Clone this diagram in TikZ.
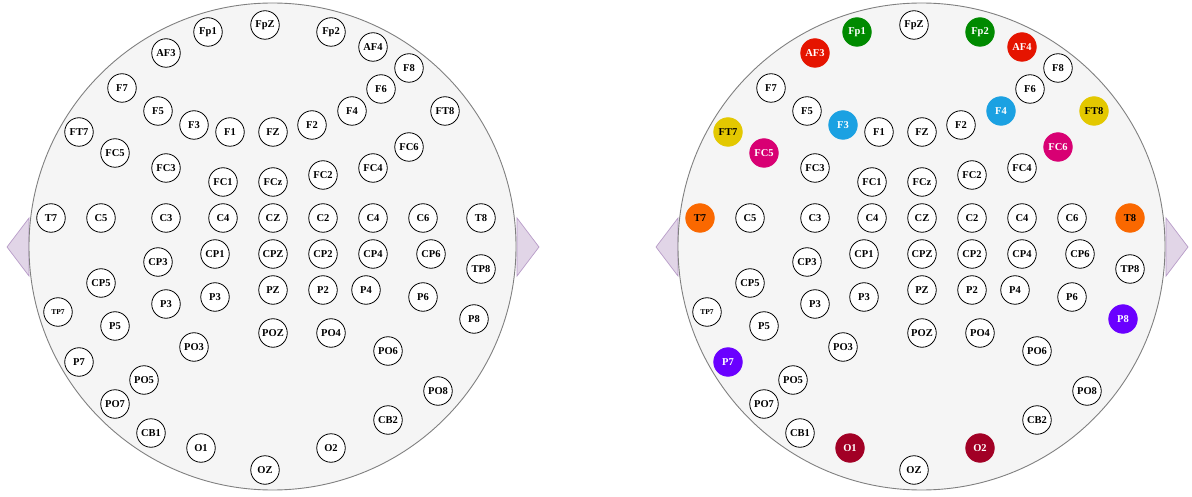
\documentclass[tikz,border=0pt]{standalone}
\usepackage{fontspec}
\setmainfont{Liberation Serif}
\begin{document}
\begin{tikzpicture}[x=1pt,y=-1pt,
  head/.style={circle,draw=headline,fill=headfill,line width=0.9pt,minimum size=487pt,inner sep=0pt},
  ear/.style={draw=earline,fill=earfill,line width=0.7pt,line join=miter},
  el/.style={circle,draw=black,fill=white,line width=0.8pt,minimum size=28.5pt,inner sep=0pt,
    font=\fontsize{10.5}{12}\selectfont\bfseries,text=black},
  ePlain/.style={},
  eGreen/.style={fill=cGreen,draw=cGreen,text=white},
  eRed/.style={fill=cRed,draw=cRed,text=white},
  eBlue/.style={fill=cBlue,draw=cBlue,text=white},
  eYellow/.style={fill=cYellow,draw=cYellow,text=black},
  eMagenta/.style={fill=cMagenta,draw=cMagenta,text=white},
  eOrange/.style={fill=cOrange,draw=cOrange,text=black},
  eViolet/.style={fill=cViolet,draw=cViolet,text=white},
  eCrimson/.style={fill=cCrimson,draw=cCrimson,text=white},
  small/.style={font=\fontsize{7.5}{9}\selectfont\bfseries}
]
\definecolor{headline}{HTML}{808080}
\definecolor{headfill}{HTML}{F5F5F5}
\definecolor{earline}{HTML}{B89CC8}
\definecolor{earfill}{HTML}{E1D5E7}
\definecolor{cGreen}{HTML}{008A00}
\definecolor{cRed}{HTML}{E51400}
\definecolor{cBlue}{HTML}{1BA1E2}
\definecolor{cYellow}{HTML}{E3C800}
\definecolor{cMagenta}{HTML}{D80073}
\definecolor{cOrange}{HTML}{FA6800}
\definecolor{cViolet}{HTML}{6A00FF}
\definecolor{cCrimson}{HTML}{A20025}

\useasboundingbox (0,0) rectangle (1192,497);

% ears
\coordinate (LeLt) at (29,218); \coordinate (LeLtip) at (7,247); \coordinate (LeLb) at (29,276);
\coordinate (LeRt) at (517,218); \coordinate (LeRtip) at (539,247); \coordinate (LeRb) at (517,276);
\coordinate (ReLt) at (678,218); \coordinate (ReLtip) at (656,247); \coordinate (ReLb) at (678,276);
\coordinate (ReRt) at (1166,218); \coordinate (ReRtip) at (1188,247); \coordinate (ReRb) at (1166,276);
\draw[ear] (LeLt) -- (LeLtip) -- (LeLb) -- cycle;
\draw[ear] (LeRt) -- (LeRtip) -- (LeRb) -- cycle;
\draw[ear] (ReLt) -- (ReLtip) -- (ReLb) -- cycle;
\draw[ear] (ReRt) -- (ReRtip) -- (ReRb) -- cycle;

% heads
\node[head] (Lhead) at (272.5,246.5) {};
\node[head] (Rhead) at (921.5,246.5) {};

\foreach \id/\x/\y/\t/\c/\f in {
  Fp1/208/32/Fp1/eGreen/el, FpZ/265/25/FpZ/ePlain/el, Fp2/331/32/Fp2/eGreen/el,
  AF3/166/53/AF3/eRed/el, AF4/373/47/AF4/eRed/el,
  F7/122/88/F7/ePlain/el, F5/158/111/F5/ePlain/el, F3/194/125/F3/eBlue/el,
  F1/230/132/F1/ePlain/el, FZ/273/132/FZ/ePlain/el, F2/312/125/F2/ePlain/el,
  F4/352/111/F4/eBlue/el, F6/381/89/F6/ePlain/el, F8/409/68/F8/ePlain/el,
  FT7/79/132/FT7/eYellow/el, FT8/445/111/FT8/eYellow/el,
  FC5/115/153/FC5/eMagenta/el, FC3/166/168/FC3/ePlain/el, FC1/223/182/FC1/ePlain/el,
  FCz/273/182/FCz/ePlain/el, FC2/323/175/FC2/ePlain/el, FC4/373/168/FC4/ePlain/el,
  FC6/409/147/FC6/eMagenta/el,
  T7/51/218/T7/eOrange/el, C5/101/218/C5/ePlain/el, C3/166/218/C3/ePlain/el,
  C4a/223/218/C4/ePlain/el, CZ/273/218/CZ/ePlain/el, C2/323/218/C2/ePlain/el,
  C4/373/218/C4/ePlain/el, C6/423/218/C6/ePlain/el, T8/481/218/T8/eOrange/el,
  CP3/158/262/CP3/ePlain/el, CP1/215/254/CP1/ePlain/el, CPZ/273/254/CPZ/ePlain/el,
  CP2/323/254/CP2/ePlain/el, CP4/373/254/CP4/ePlain/el, CP6/431/254/CP6/ePlain/el,
  CP5/101/283/CP5/ePlain/el, TP8/481/269/TP8/ePlain/el,
  TP7/58/312/TP7/ePlain/small,
  P3/166/304/P3/ePlain/el, P3a/215/297/P3/ePlain/el, PZ/273/290/PZ/ePlain/el,
  P2/323/290/P2/ePlain/el, P4/366/290/P4/ePlain/el, P6/423/297/P6/ePlain/el,
  P5/115/326/P5/ePlain/el, P8/474/319/P8/eViolet/el, P7/79/362/P7/eViolet/el,
  POZ/273/333/POZ/ePlain/el, PO4/331/333/PO4/ePlain/el, PO3/194/347/PO3/ePlain/el,
  PO6/388/351/PO6/ePlain/el, PO5/144/380/PO5/ePlain/el, PO7/115/404/PO7/ePlain/el,
  PO8/438/391/PO8/ePlain/el, CB1/151/433/CB1/ePlain/el, CB2/388/420/CB2/ePlain/el,
  O1/201/448/O1/eCrimson/el, O2/331/448/O2/eCrimson/el, OZ/265/470/OZ/ePlain/el}
{
  \node[el,\f] (L\id) at (\x,\y) {\t};
  \node[el,\f,\c] (R\id) at (\x+649,\y) {\t};
}
\end{tikzpicture}
\end{document}
